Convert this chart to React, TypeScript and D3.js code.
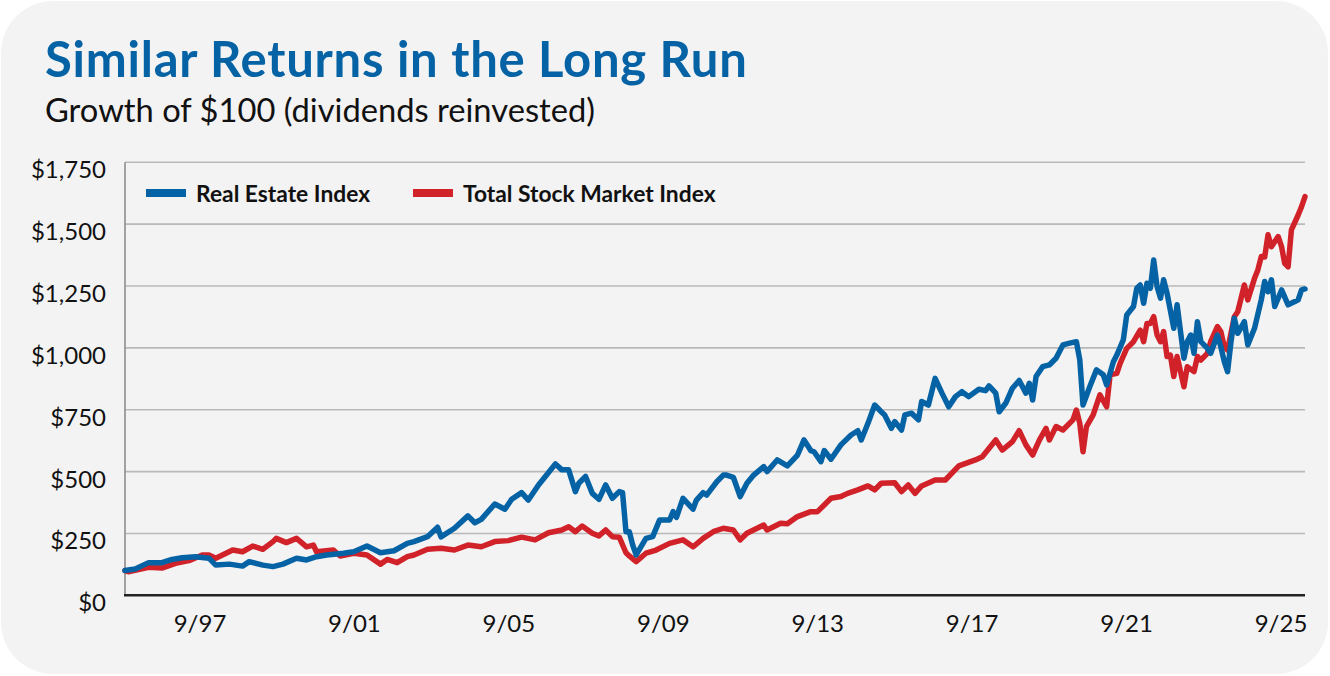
import React from 'react';
import * as d3 from 'd3';

// Growth of $100 (month, value)
const reDates = [
  '1996-06','1996-09','1997-01','1997-05','1997-08','1997-11','1998-03','1998-07','1998-09','1999-01',
  '1999-05','1999-07','1999-11','2000-02','2000-05','2000-09','2000-12','2001-03','2001-06','2001-11',
  '2002-02','2002-06','2002-10','2003-02','2003-06','2003-08','2003-12','2004-03','2004-04','2004-08',
  '2004-12','2005-02','2005-04','2005-08','2005-11','2006-01','2006-04','2006-06','2006-09','2006-12',
  '2007-02','2007-04','2007-06','2007-08','2007-09','2007-11','2008-01','2008-03','2008-05','2008-07',
  '2008-09','2008-10','2008-11','2008-12','2009-01','2009-02','2009-05','2009-07','2009-09','2009-12',
  '2010-01','2010-02','2010-04','2010-07','2010-08','2010-10','2010-11','2011-02','2011-04','2011-05',
  '2011-07','2011-09','2011-11','2012-01','2012-04','2012-05','2012-08','2012-11','2013-02','2013-04',
  '2013-06','2013-07','2013-09','2013-10','2013-12','2014-03','2014-06','2014-08','2014-09','2014-11',
  '2015-01','2015-03','2015-04','2015-06','2015-07','2015-09','2015-10','2015-12','2016-02','2016-03',
  '2016-05','2016-07','2016-09','2016-11','2017-01','2017-03','2017-05','2017-08','2017-10','2017-11',
  '2018-01','2018-02','2018-04','2018-06','2018-08','2018-10','2018-11','2018-12','2019-01','2019-03',
  '2019-05','2019-07','2019-09','2019-11','2020-01','2020-02','2020-03','2020-05','2020-07','2020-09',
  '2020-10','2020-12','2021-01','2021-03','2021-04','2021-06','2021-07','2021-08','2021-09','2021-10',
  '2021-11','2021-12','2022-01','2022-02','2022-03','2022-04','2022-06','2022-07','2022-09','2022-10',
  '2022-11','2022-12','2023-01','2023-02','2023-04','2023-05','2023-07','2023-08','2023-09','2023-10',
  '2023-11','2023-12','2024-01','2024-03','2024-04','2024-06','2024-08','2024-09','2024-10','2024-11',
  '2024-12','2025-02','2025-04','2025-06','2025-07','2025-08','2025-09',
];
const reValues = [
  100,106,132,132,145,152,156,150,122,126,
  118,136,122,116,126,150,143,156,163,170,
  176,199,172,180,210,217,237,275,236,271,
  321,293,307,369,348,388,415,385,446,496,
  531,507,507,419,453,480,412,388,446,392,
  419,415,257,257,203,163,230,237,304,304,
  338,315,392,348,385,415,405,459,486,486,
  477,399,453,486,520,500,547,523,567,628,
  585,580,540,585,550,608,648,665,628,695,
  769,742,729,675,702,668,729,736,709,783,
  769,877,817,762,803,823,803,833,827,846,
  817,742,776,837,868,817,857,789,884,924,
  931,958,1012,1019,1025,951,769,843,911,891,
  850,944,971,1032,1133,1167,1241,1254,1180,1261,
  1241,1355,1247,1201,1275,1221,1079,1174,958,1025,
  1052,978,1106,1025,998,978,1052,1005,944,904,
  1025,1120,1059,1106,1012,1079,1194,1268,1227,1275,
  1167,1234,1174,1187,1194,1234,1238,
];

const tsDates = [
  '1996-06','1996-07','1997-01','1997-05','1997-09','1998-01','1998-05','1998-07','1998-09','1999-02',
  '1999-05','1999-08','1999-11','2000-02','2000-03','2000-06','2000-09','2000-12','2001-02','2001-03',
  '2001-08','2001-10','2002-02','2002-06','2002-10','2002-12','2003-03','2003-06','2003-08','2003-12',
  '2004-04','2004-08','2004-12','2005-04','2005-08','2005-12','2006-04','2006-08','2006-12','2007-04',
  '2007-06','2007-08','2007-10','2008-01','2008-03','2008-05','2008-07','2008-09','2008-11','2008-12',
  '2009-02','2009-05','2009-08','2009-12','2010-04','2010-07','2010-10','2011-01','2011-04','2011-07',
  '2011-09','2011-11','2012-04','2012-05','2012-09','2012-11','2013-02','2013-06','2013-08','2013-12',
  '2014-03','2014-05','2014-08','2014-11','2015-01','2015-03','2015-07','2015-09','2015-11','2016-01',
  '2016-03','2016-07','2016-10','2017-02','2017-07','2017-09','2018-01','2018-03','2018-06','2018-08',
  '2018-10','2018-12','2019-02','2019-04','2019-05','2019-07','2019-09','2019-12','2020-01','2020-02',
  '2020-03','2020-04','2020-06','2020-08','2020-10','2020-11','2021-01','2021-02','2021-04','2021-06',
  '2021-08','2021-09','2021-10','2021-11','2021-12','2022-01','2022-02','2022-03','2022-04','2022-05',
  '2022-06','2022-07','2022-09','2022-10','2022-12','2023-01','2023-02','2023-04','2023-05','2023-07',
  '2023-08','2023-09','2023-10','2023-12','2024-01','2024-03','2024-04','2024-06','2024-07','2024-08',
  '2024-09','2024-10','2024-11','2025-01','2025-02','2025-03','2025-04','2025-05','2025-07','2025-08',
  '2025-09',
];
const tsValues = [
  100,95,113,110,129,140,163,163,150,183,
  176,199,186,217,230,213,230,196,203,176,
  183,159,170,163,126,145,132,156,163,186,
  190,183,203,196,217,221,235,224,253,264,
  277,257,280,251,240,264,237,235,172,159,
  136,170,183,210,224,196,230,257,271,264,
  224,251,284,264,291,289,318,338,338,392,
  399,412,426,442,426,453,455,419,446,412,
  442,466,466,523,547,560,628,587,621,665,
  608,567,628,675,628,682,668,709,749,695,
  580,682,729,810,762,891,897,938,998,1025,
  1072,1025,1099,1099,1126,1052,1025,1066,965,971,
  884,965,843,924,904,965,951,978,1025,1086,
  1066,1005,991,1126,1146,1254,1194,1281,1315,1369,
  1367,1457,1409,1450,1409,1342,1328,1477,1537,1571,
  1611,
];

const yTicks = [0, 250, 500, 750, 1000, 1250, 1500, 1750];
const xTickLabels = ['9/97', '9/01', '9/05', '9/09', '9/13', '9/17', '9/21', '9/25'];

const seriesNames = ['Real Estate Index', 'Total Stock Market Index'];
const BLUE = '#0563a5';
const RED = '#d1222a';

const W = 1330;
const H = 676;
const FONT = 'Lato, "Open Sans", sans-serif';

const parse = d3.timeParse('%Y-%m');

export default function App() {
  const left = 125;
  const right = 1305;
  const top = 162.3;
  const bottom = 595.3;

  const x = d3.scaleTime()
    .domain([parse('1996-06') as Date, parse('2025-09') as Date])
    .range([left, right]);
  const y = d3.scaleLinear().domain([0, 1750]).range([bottom, top]);

  // category labels spread evenly under the plot, as in the original
  const xLabel = d3.scalePoint<string>().domain(xTickLabels).range([200, 1281]);

  const re = reDates.map((d, i) => ({ date: parse(d) as Date, value: reValues[i] }));
  const ts = tsDates.map((d, i) => ({ date: parse(d) as Date, value: tsValues[i] }));

  const line = d3.line<{ date: Date; value: number }>()
    .x(d => x(d.date))
    .y(d => y(d.value));

  const fmtY = d3.format('$,.0f');

  return (
    <svg width={W} height={H} style={{ position: 'absolute', left: 0, top: 0, display: 'block' }}>
      <rect x={0} y={0} width={W} height={H} fill="#ffffff" />
      <rect x={1} y={1} width={1327} height={673} rx={52} ry={52} fill="#f3f3f3" />

      <text x={45} y={77} fill={BLUE} fontFamily={FONT} fontWeight={700} fontSize={49} letterSpacing={0.75}>
        Similar Returns in the Long Run
      </text>
      <text x={45} y={122} fill="#111" fontFamily={FONT} fontSize={32.7}>
        Growth of $100 (dividends reinvested)
      </text>

      {/* grid */}
      {yTicks.filter(t => t > 0).map(t => (
        <line key={t} x1={left} x2={right} y1={y(t)} y2={y(t)} stroke="#b9b9b9" strokeWidth={1.6} />
      ))}
      <line x1={left} x2={left} y1={top} y2={bottom} stroke="#8c8c8c" strokeWidth={1.6} />

      {yTicks.map(t => (
        <text key={t} x={106} y={y(t) + 16} textAnchor="end" fontFamily={FONT} fontSize={24} fill="#111">
          {fmtY(t)}
        </text>
      ))}

      {xTickLabels.map(l => (
        <text key={l} x={xLabel(l)} y={632} textAnchor="middle" fontFamily={FONT} fontSize={24} fill="#111">
          {l}
        </text>
      ))}

      {/* series */}
      <path d={line(ts) || ''} fill="none" stroke={RED} strokeWidth={5.5} strokeLinejoin="round" strokeLinecap="round" />
      <path d={line(re) || ''} fill="none" stroke={BLUE} strokeWidth={5.5} strokeLinejoin="round" strokeLinecap="round" />

      <line x1={left - 1} x2={right} y1={bottom} y2={bottom} stroke="#222" strokeWidth={2.6} />

      {/* legend */}
      <line x1={146} x2={186} y1={193} y2={193} stroke={BLUE} strokeWidth={8} />
      <text x={196} y={201.5} fontFamily={FONT} fontWeight={700} fontSize={22.8} fill="#111">
        {seriesNames[0]}
      </text>
      <line x1={413} x2={453} y1={193} y2={193} stroke={RED} strokeWidth={8} />
      <text x={463} y={201.5} fontFamily={FONT} fontWeight={700} fontSize={22.8} fill="#111">
        {seriesNames[1]}
      </text>
    </svg>
  );
}
